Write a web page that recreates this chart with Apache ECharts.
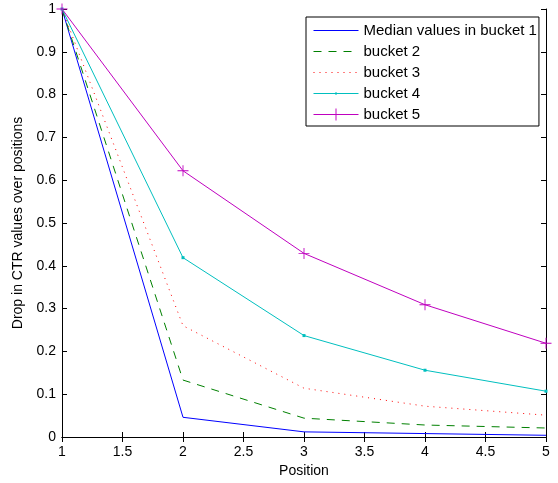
<!DOCTYPE html>
<html>
<head>
<meta charset="utf-8">
<script src="https://cdn.jsdelivr.net/npm/echarts@6/dist/echarts.min.js"></script>
<style>
  html, body { margin: 0; padding: 0; background: #fff; }
  #chart { width: 558px; height: 483px; }
</style>
</head>
<body>
<div id="chart"></div>
<script>
var positions = [1, 2, 3, 4, 5];
var bucket1 = [1, 0.046, 0.012, 0.008, 0.004];
var bucket2 = [1, 0.133, 0.044, 0.028, 0.021];
var bucket3 = [1, 0.26, 0.114, 0.072, 0.051];
var bucket4 = [1, 0.419, 0.237, 0.156, 0.107];
var bucket5 = [1, 0.622, 0.429, 0.309, 0.219];
var names = ['Median values in bucket 1', 'bucket 2', 'bucket 3', 'bucket 4', 'bucket 5'];

function pairs(vals) {
  return positions.map(function (p, i) { return [p, vals[i]]; });
}

var font = 'Liberation Sans, Arial, sans-serif';
var plus = 'path://M4.6,0h0.8v4.6h4.6v0.8h-4.6v4.6h-0.8v-4.6h-4.6v-0.8h4.6z';
// small centred dot inside a larger empty box, keeps the marker tiny in the legend too
var smallDot = 'path://M0,0L0,0M12,12L12,12M5,5h2v2h-2z';
var noMark = { color: 'transparent', borderWidth: 0, opacity: 0 };

var chart = echarts.init(document.getElementById('chart'));

var axisCommon = {
  axisLine: { show: true, lineStyle: { color: '#000', width: 1 } },
  axisTick: { show: true, inside: true, length: 5, lineStyle: { color: '#000' } },
  splitLine: { show: false }
};

var option = {
  animation: false,
  backgroundColor: '#fff',
  grid: { left: 62, right: 12, top: 9, bottom: 44 },
  legend: {
    orient: 'vertical',
    left: 306,
    top: 17,
    padding: [6, 2, 4, 7],
    itemWidth: 45,
    itemHeight: 15,
    itemGap: 6,
    borderColor: '#000',
    borderWidth: 1,
    backgroundColor: '#fff',
    lineStyle: { width: 1 },
    textStyle: { fontFamily: font, fontSize: 15, lineHeight: 15, color: '#000' },
    data: [
      { name: names[0], itemStyle: noMark },
      { name: names[1], itemStyle: noMark },
      { name: names[2], itemStyle: noMark },
      { name: names[3] },
      { name: names[4] }
    ]
  },
  xAxis: [
    Object.assign({
      type: 'value', min: 1, max: 5, interval: 0.5, position: 'bottom',
      name: 'Position', nameLocation: 'middle', nameGap: 27,
      nameTextStyle: { fontFamily: font, fontSize: 14, color: '#000' },
      axisLabel: { fontFamily: font, fontSize: 14, color: '#000', margin: 8 }
    }, axisCommon),
    Object.assign({
      type: 'value', min: 1, max: 5, interval: 0.5, position: 'top',
      axisLabel: { show: false }
    }, axisCommon)
  ],
  yAxis: [
    Object.assign({
      type: 'value', min: 0, max: 1, interval: 0.1, position: 'left',
      name: 'Drop in CTR values over positions', nameLocation: 'middle', nameGap: 30,
      nameTextStyle: { fontFamily: font, fontSize: 14, color: '#000' },
      axisLabel: {
        fontFamily: font, fontSize: 14, color: '#000', margin: 6,
        formatter: function (v) { return String(Math.round(v * 10) / 10); }
      }
    }, axisCommon),
    Object.assign({
      type: 'value', min: 0, max: 1, interval: 0.1, position: 'right',
      axisLabel: { show: false }
    }, axisCommon)
  ],
  series: [
    {
      name: names[0], type: 'line', data: pairs(bucket1), symbol: 'none',
      lineStyle: { color: '#0000ff', width: 1 }, itemStyle: { color: '#0000ff' }
    },
    {
      name: names[1], type: 'line', data: pairs(bucket2), symbol: 'none',
      lineStyle: { color: '#008000', width: 1, type: [8, 7] }, itemStyle: { color: '#008000' }
    },
    {
      name: names[2], type: 'line', data: pairs(bucket3), symbol: 'none',
      lineStyle: { color: '#ff0000', width: 1, type: [1, 5] }, itemStyle: { color: '#ff0000' }
    },
    {
      name: names[3], type: 'line', data: pairs(bucket4), symbol: smallDot, symbolSize: 18,
      lineStyle: { color: '#00bfbf', width: 1 }, itemStyle: { color: '#00bfbf' }
    },
    {
      name: names[4], type: 'line', data: pairs(bucket5), symbol: plus, symbolSize: 11,
      lineStyle: { color: '#bf00bf', width: 1 }, itemStyle: { color: '#bf00bf' }
    }
  ]
};

chart.setOption(option);
</script>
</body>
</html>
